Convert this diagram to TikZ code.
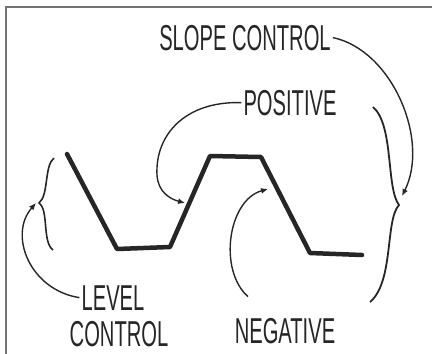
\documentclass[tikz,border=0pt]{standalone}
\usepackage{fontspec}
\newfontfamily\handfont[FakeStretch=0.56]{Liberation Sans}
\usetikzlibrary{arrows.meta}

\begin{document}
\begin{tikzpicture}[x=1pt,y=-1pt,
	every node/.style={font=\handfont\fontsize{36}{38}\selectfont, text=black!85, inner sep=2pt},
	callout/.style={black!85, line width=1.4pt, -{Latex[length=7pt,width=6pt]}}]
	\useasboundingbox (0,0) rectangle (432,354);
	\draw[black!55, line width=1.5pt] (6,354) -- (6,7) -- (432,7);
	\draw[black!85, line width=4.5pt, line cap=round, line join=round]
		(67,154) -- (117,249) -- (170,247) -- (210,156) -- (261,157) -- (310,253) -- (362,255);
	\draw[black!85, line width=1.6pt] (54,158) .. controls (44,166) and (49,195) .. (39,203)
		.. controls (49,210) and (42,242) .. (53,250);
	\draw[black!85, line width=1.8pt] (373,107) .. controls (394,125) and (386,188) .. (399,205)
		.. controls (385,220) and (394,282) .. (370,302);
	\coordinate (lvltip) at (36,203);
	\coordinate (slopetip) at (402,196);
	\coordinate (postip) at (185,203);
	\coordinate (negtip) at (268,189);
	\node[anchor=base] (slope) at (245,50) {SLOPE CONTROL};
	\node[anchor=base] (pos) at (290,115) {POSITIVE};
	\node[anchor=base] (lvl) at (113,310) {LEVEL};
	\node[anchor=base] (ctl) at (119,346) {CONTROL};
	\node[anchor=base] (neg) at (285,343) {NEGATIVE};
	\draw[callout] (slope.east) .. controls (392,50) and (430,140) .. (slopetip);
	\draw[callout] (pos.west) .. controls (185,101) and (155,135) .. (157,175)
		.. controls (158,192) and (170,199) .. (postip);
	\draw[callout] (lvl.west) .. controls (30,290) and (8,235) .. (lvltip);
	\draw[callout] ([xshift=-37pt,yshift=19pt]neg.north) .. controls (218,270) and (228,200) .. (negtip);
\end{tikzpicture}
\end{document}
